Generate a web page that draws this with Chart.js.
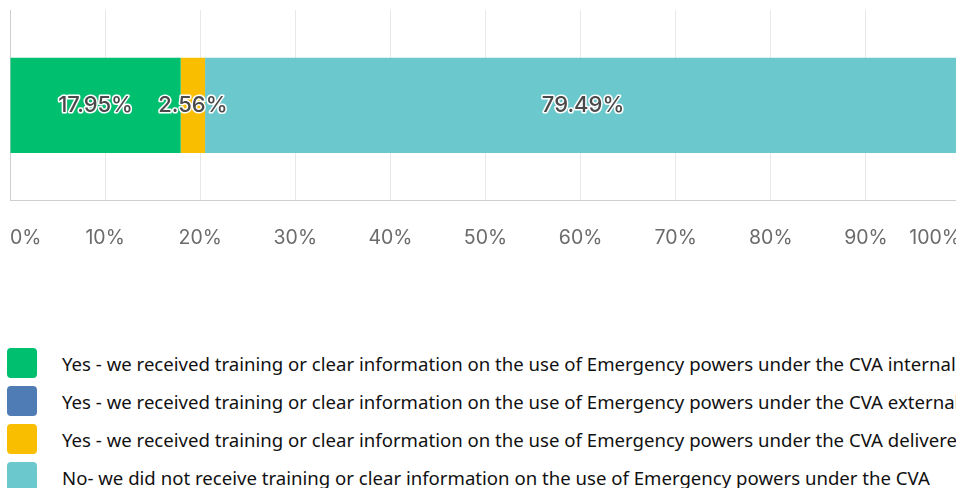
<!DOCTYPE html>
<html>
<head>
<meta charset="utf-8">
<script src="https://cdn.jsdelivr.net/npm/chart.js@4.4.0/dist/chart.umd.min.js"></script>
<style>
    html, body { margin: 0; padding: 0; background: #fff; overflow: hidden; }
    #wrap { position: absolute; left: -16px; top: 0; width: 1003px; height: 288px; }
    #legend { position: absolute; left: 7px; top: 348px; width: 1400px;
              font-family: "Noto Sans", sans-serif; font-size: 18.6px; color: #111; }
    .item { height: 30px; margin-bottom: 8px; display: flex; align-items: center; white-space: nowrap; }
    .swatch { width: 30px; height: 30px; border-radius: 4px; margin-right: 25px; flex: none; }
</style>
</head>
<body>
<div id="wrap"><canvas id="chart"></canvas></div>
<div id="legend"></div>
<script>
// answer options and their share of responses
const answers = [
    'Yes - we received training or clear information on the use of Emergency powers under the CVA internally',
    'Yes - we received training or clear information on the use of Emergency powers under the CVA externally',
    'Yes - we received training or clear information on the use of Emergency powers under the CVA delivered',
    'No- we did not receive training or clear information on the use of Emergency powers under the CVA'
];
const shares = [17.95, 0, 2.56, 79.49];
const colors = ['#00BF6F', '#507CB6', '#F9BE00', '#6BC8CD'];
const tickValues = [0, 10, 20, 30, 40, 50, 60, 70, 80, 90, 100];

// draws the percentage in the middle of each segment, dark text with a white halo
const segmentLabels = {
    id: 'segmentLabels',
    afterDatasetsDraw(chart) {
        const ctx = chart.ctx;
        ctx.save();
        ctx.font = '500 22px Inter, sans-serif';
        ctx.textAlign = 'center';
        ctx.textBaseline = 'middle';
        ctx.lineJoin = 'round';
        chart.data.datasets.forEach((ds, i) => {
            const meta = chart.getDatasetMeta(i);
            meta.data.forEach((bar, j) => {
                const v = ds.data[j];
                if (!v) return;
                const p = bar.getCenterPoint();
                const txt = v.toFixed(2) + '%';
                ctx.lineWidth = 3;
                ctx.strokeStyle = '#fff';
                ctx.strokeText(txt, p.x, p.y);
                ctx.fillStyle = '#4a4a4a';
                ctx.fillText(txt, p.x, p.y);
            });
        });
        ctx.restore();
    }
};

const chart = new Chart(document.getElementById('chart'), {
    type: 'bar',
    data: {
        labels: [''],
        datasets: answers.map((a, i) => ({
            label: a,
            data: [shares[i]],
            backgroundColor: colors[i],
            barPercentage: 0.5,
            categoryPercentage: 1
        }))
    },
    options: {
        indexAxis: 'y',
        responsive: true,
        maintainAspectRatio: false,
        animation: false,
        layout: { padding: { left: 10, top: 10, right: 0, bottom: 12 } },
        scales: {
            x: {
                stacked: true,
                min: 0,
                max: 100,
                afterBuildTicks: (axis) => { axis.ticks = tickValues.map(v => ({ value: v })); },
                grid: {
                    color: (c) => c.index === 0 ? '#cfcfcf' : '#e8e8e8',
                    drawTicks: false
                },
                border: { color: '#cfcfcf' },
                ticks: {
                    align: 'inner',
                    padding: 26,
                    color: '#6b6b6b',
                    font: { family: 'Inter, sans-serif', size: 19.5 },
                    callback: (v) => v + '%'
                }
            },
            y: { stacked: true, display: false }
        },
        plugins: {
            legend: { display: false },
            tooltip: { enabled: false }
        }
    },
    plugins: [segmentLabels]
});

// legend below the chart, one answer per row
const legend = document.getElementById('legend');
answers.forEach((a, i) => {
    const row = document.createElement('div');
    row.className = 'item';
    row.innerHTML = `<span class="swatch" style="background:${colors[i]}"></span><span>${a}</span>`;
    legend.appendChild(row);
});
</script>
</body>
</html>
